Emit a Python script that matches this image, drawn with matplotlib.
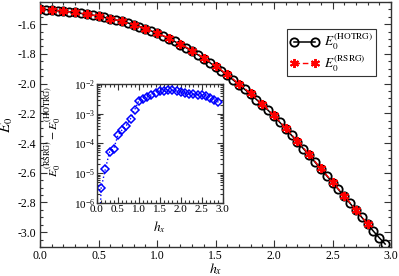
import numpy as np
import matplotlib
matplotlib.use("Agg")
import matplotlib.pyplot as plt
from matplotlib.ticker import MultipleLocator, LogLocator, NullFormatter, FixedLocator, FormatStrFormatter

plt.rcParams['font.family'] = ['Liberation Serif', 'DejaVu Serif']
plt.rcParams['mathtext.fontset'] = 'stix'
plt.rcParams['axes.unicode_minus'] = False

# HOTRG ground-state energy, h_x step 0.05
h_hotrg = [0.00, 0.05, 0.10, 0.15, 0.20, 0.25, 0.30, 0.35, 0.40, 0.45,
           0.50, 0.55, 0.60, 0.65, 0.70, 0.75, 0.80, 0.85, 0.90, 0.95,
           1.00, 1.05, 1.10, 1.15, 1.20, 1.25, 1.30, 1.35, 1.40, 1.45,
           1.50, 1.55, 1.60, 1.65, 1.70, 1.75, 1.80, 1.85, 1.90, 1.95,
           2.00, 2.05, 2.10, 2.15, 2.20, 2.25, 2.30, 2.35, 2.40, 2.45,
           2.50, 2.55, 2.60, 2.65, 2.70, 2.75, 2.80, 2.85, 2.90, 2.95]
e_hotrg = [-1.500, -1.501, -1.505, -1.508, -1.512, -1.516, -1.521, -1.527, -1.533, -1.539,
           -1.546, -1.554, -1.562, -1.571, -1.581, -1.591, -1.603, -1.616, -1.630, -1.645,
           -1.661, -1.678, -1.697, -1.716, -1.737, -1.759, -1.782, -1.806, -1.831, -1.858,
           -1.886, -1.914, -1.944, -1.975, -2.006, -2.039, -2.072, -2.107, -2.143, -2.180,
           -2.219, -2.261, -2.304, -2.348, -2.392, -2.437, -2.482, -2.528, -2.574, -2.620,
           -2.666, -2.712, -2.759, -2.806, -2.853, -2.900, -2.947, -2.994, -3.038, -3.080]

# RSRG ground-state energy, h_x step 0.1
h_rsrg = [0.0, 0.1, 0.2, 0.3, 0.4, 0.5, 0.6, 0.7, 0.8, 0.9,
          1.0, 1.1, 1.2, 1.3, 1.4, 1.5, 1.6, 1.7, 1.8, 1.9,
          2.0, 2.1, 2.2, 2.3, 2.4, 2.5, 2.6, 2.7, 2.8]
e_rsrg = [-1.500, -1.505, -1.512, -1.521, -1.533, -1.546, -1.562, -1.581, -1.602, -1.629,
          -1.658, -1.694, -1.733, -1.777, -1.826, -1.880, -1.938, -2.000, -2.066, -2.137,
          -2.214, -2.299, -2.387, -2.477, -2.570, -2.662, -2.755, -2.850, -2.944]

# inset: E0(RSRG) - E0(HOTRG)
h_diff = [0.1, 0.2, 0.3, 0.4, 0.5, 0.6, 0.7, 0.8, 0.9, 1.0,
          1.1, 1.2, 1.3, 1.4, 1.5, 1.6, 1.7, 1.8, 1.9, 2.0,
          2.1, 2.2, 2.3, 2.4, 2.5, 2.6, 2.7, 2.8, 2.9]
diff = [3.2e-6, 1.4e-5, 5.2e-5, 6.7e-5, 1.9e-4, 2.9e-4, 4.0e-4, 6.8e-4, 1.37e-3, 2.75e-3,
        3.2e-3, 3.65e-3, 4.4e-3, 5.1e-3, 5.7e-3, 5.95e-3, 6.1e-3, 6.1e-3, 5.8e-3, 5.4e-3,
        5.0e-3, 4.7e-3, 4.6e-3, 4.37e-3, 4.17e-3, 3.86e-3, 3.39e-3, 2.97e-3, 2.43e-3]
h_diff_line = [0.0] + h_diff
diff_line = [1e-9] + diff

fig = plt.figure(figsize=(3.99, 2.76), dpi=100)
ax = fig.add_axes([0.1003, 0.105, 0.8797, 0.888])

ax.plot(h_hotrg, e_hotrg, color='black', lw=1.1, marker='o', ms=6.0,
        mfc='none', mec='black', mew=1.3, label=r'$E_0^{\rm (HOTRG)}$', zorder=2)
ax.plot(h_rsrg, e_rsrg, color='red', lw=1.0, ls=(0, (4, 2)), marker=(6, 2, 0), ms=6.5,
        mec='red', mew=1.4, label=r'$E_0^{\rm (RSRG)}$', zorder=3)

ax.set_xlim(0, 3.0)
ax.set_ylim(-3.1, -1.45)
ax.xaxis.set_major_locator(MultipleLocator(0.5))
ax.xaxis.set_minor_locator(MultipleLocator(0.1))
ax.yaxis.set_major_locator(FixedLocator([-3.0, -2.8, -2.6, -2.4, -2.2, -2.0, -1.8, -1.6]))
ax.yaxis.set_minor_locator(MultipleLocator(0.05))
ax.xaxis.set_major_formatter(FormatStrFormatter('%.1f'))
ax.yaxis.set_major_formatter(FormatStrFormatter('%.1f'))
ax.tick_params(which='both', direction='in', top=True, right=True, labelsize=8.5,
               colors='#333333', labelcolor='black', pad=2.5)
ax.tick_params(axis='x', which='both', pad=2)
ax.tick_params(which='major', length=5, width=0.8)
ax.tick_params(which='minor', length=2.5, width=0.8)
for s in ax.spines.values():
    s.set_linewidth(1.0)
    s.set_color('#333333')
ax.set_xlabel(r'$h_x$', fontsize=10)
ax.set_ylabel(r'$E_0$', fontsize=11)
ax.xaxis.set_label_coords(0.5, -0.057)
ax.yaxis.set_label_coords(-0.072, 0.5)

leg = ax.legend(loc='upper right', bbox_to_anchor=(0.957, 0.89), fontsize=9.5,
                numpoints=2, handlelength=2.2, fancybox=False, framealpha=1,
                edgecolor='#333333', borderpad=0.2, labelspacing=0.1, handletextpad=0.4,
                borderaxespad=0)
leg.get_frame().set_linewidth(0.8)

ins = fig.add_axes([0.2431, 0.2645, 0.315, 0.4312])
ins.plot(h_diff_line, diff_line, color='blue', lw=1.0, ls=':', zorder=1)
ins.plot(h_diff, diff, ls='none', marker='D', ms=3.6, mfc='none', mec='blue', mew=1.1, zorder=2)
ins.set_yscale('log')
ins.set_xlim(0, 3.0)
ins.set_ylim(1e-6, 1e-2)
ins.xaxis.set_major_locator(MultipleLocator(0.5))
ins.xaxis.set_minor_locator(MultipleLocator(0.1))
ins.xaxis.set_major_formatter(FormatStrFormatter('%.1f'))
ins.yaxis.set_major_locator(LogLocator(base=10, numticks=10))
ins.yaxis.set_minor_locator(LogLocator(base=10, subs=np.arange(2, 10), numticks=20))
ins.yaxis.set_minor_formatter(NullFormatter())
ins.tick_params(which='both', direction='in', top=True, right=True, labelsize=8, pad=1.5,
                colors='#333333', labelcolor='black')
ins.tick_params(which='major', length=4, width=0.8)
ins.tick_params(which='minor', length=2, width=0.8)
for s in ins.spines.values():
    s.set_linewidth(1.0)
    s.set_color('#333333')
ins.set_xlabel(r'$h_x$', fontsize=9.5)
ins.set_ylabel(r'$E_0^{\rm (RSRG)}-E_0^{\rm (HOTRG)}$', fontsize=8.5)
ins.xaxis.set_label_coords(0.5, -0.14)
ins.yaxis.set_label_coords(-0.27, 0.6)

fig.savefig('out.png', dpi=100)
